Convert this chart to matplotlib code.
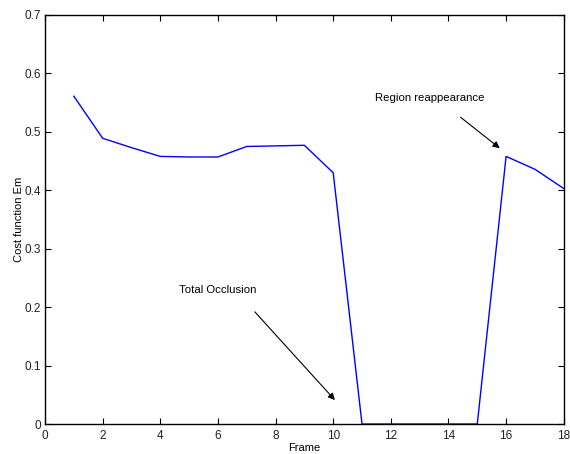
import matplotlib
matplotlib.use("Agg")
import matplotlib.pyplot as plt

frames = [1, 2, 3, 4, 5, 6, 7, 8, 9, 10, 11, 12, 13, 14, 15, 16, 17, 18]
cost = [0.561, 0.489, 0.473, 0.458, 0.457, 0.457, 0.475, 0.476, 0.477, 0.430,
        0.0, 0.0, 0.0, 0.0, 0.0, 0.458, 0.436, 0.403]
xticks = [0, 2, 4, 6, 8, 10, 12, 14, 16, 18]
yticks = [0, 0.1, 0.2, 0.3, 0.4, 0.5, 0.6, 0.7]
ytick_labels = ["0", "0.1", "0.2", "0.3", "0.4", "0.5", "0.6", "0.7"]

plt.rcParams['font.family'] = ['Liberation Sans', 'DejaVu Sans']

fig = plt.figure(figsize=(5.7, 4.54), dpi=100)
ax = fig.add_axes([0.079, 0.066, 0.910, 0.901])
ax.plot(frames, cost, color='#0000ff', linewidth=1.0)
ax.set_xlim(0, 18)
ax.set_ylim(0, 0.7)
ax.set_xticks(xticks)
ax.set_xticklabels([str(t) for t in xticks])
ax.set_yticks(yticks)
ax.set_yticklabels(ytick_labels)
ax.tick_params(direction='in', top=True, right=True, labelsize=8.5, length=4,
               width=0.8, labelcolor='#222222')
ax.tick_params(axis='x', pad=4.5)
ax.tick_params(axis='y', pad=3)
for s in ax.spines.values():
    s.set_linewidth(1.0)
ax.set_xlabel("Frame", fontsize=8, labelpad=0.5)
ax.set_ylabel("Cost function Em", fontsize=8, labelpad=0)

ax.annotate("", xy=(10.06, 0.041), xytext=(7.28, 0.192),
            arrowprops=dict(arrowstyle='-|>', color='black', lw=0.8,
                            mutation_scale=10, shrinkA=0, shrinkB=0))
ax.text(4.65, 0.229, "Total Occlusion", fontsize=8.2, va='center', ha='left')
ax.annotate("", xy=(15.78, 0.472), xytext=(14.42, 0.525),
            arrowprops=dict(arrowstyle='-|>', color='black', lw=0.8,
                            mutation_scale=10, shrinkA=0, shrinkB=0))
ax.text(11.45, 0.558, "Region reappearance", fontsize=8.2, va='center', ha='left')

fig.savefig("out.png", dpi=100)
